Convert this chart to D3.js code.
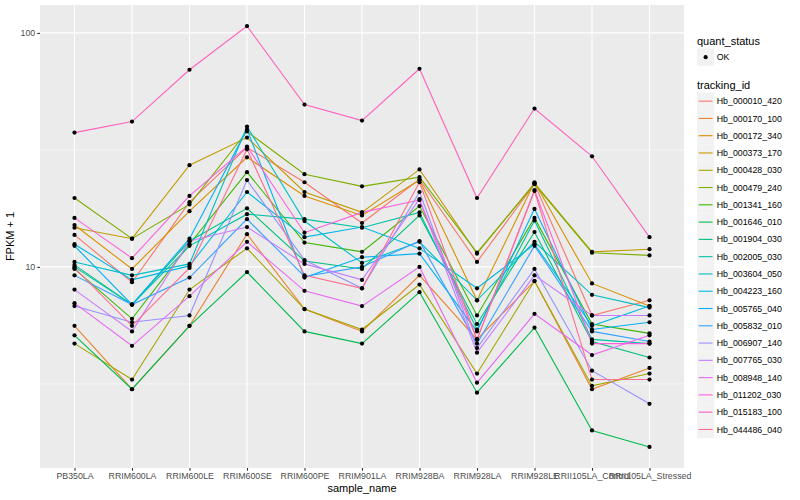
<!DOCTYPE html>
<html lang="en">
<head>
<meta charset="UTF-8">
<title>FPKM + 1 by sample</title>
<script src="https://d3js.org/d3.v7.min.js"></script>
<style>
  body { margin: 0; background: #fff; }
  text { font-family: "Liberation Sans", Arial, Helvetica, sans-serif; }
</style>
</head>
<body>
<svg id="chart" width="800" height="500"></svg>
<script>
// samples on the x axis
var samples = ["PB350LA", "RRIM600LA", "RRIM600LE", "RRIM600SE", "RRIM600PE", "RRIM901LA",
  "RRIM928BA", "RRIM928LA", "RRIM928LE", "RRII105LA_Control", "RRII105LA_Stressed"];

var trackingIds = ["Hb_000010_420", "Hb_000170_100", "Hb_000172_340", "Hb_000373_170",
  "Hb_000428_030", "Hb_000479_240", "Hb_001341_160", "Hb_001646_010", "Hb_001904_030",
  "Hb_002005_030", "Hb_003604_050", "Hb_004223_160", "Hb_005765_040", "Hb_005832_010",
  "Hb_006907_140", "Hb_007765_030", "Hb_008948_140", "Hb_011202_030", "Hb_015183_100",
  "Hb_044486_040"];

var quantStatus = ["OK"];

// FPKM + 1, one row per tracking id, columns in sample order
var fpkmPlusOne = [
  [13.7, 8.6, 18.9, 32.4, 23.0, 15.4, 23.7, 10.5, 22.6, 6.2, 7.2],
  [5.6, 3.0, 5.6, 13.8, 6.6, 5.3, 9.2, 4.9, 8.7, 3.0, 3.7],
  [15.1, 9.8, 17.3, 29.4, 20.1, 16.6, 23.5, 7.2, 23.0, 8.5, 6.8],
  [14.7, 13.2, 27.2, 35.7, 20.9, 17.1, 26.1, 11.4, 22.8, 11.6, 11.9],
  [4.7, 3.3, 8.0, 12.0, 6.6, 5.4, 8.4, 3.5, 8.7, 3.1, 3.5],
  [19.7, 13.2, 18.5, 37.9, 24.9, 22.1, 24.2, 11.5, 22.6, 11.5, 11.2],
  [9.8, 6.0, 12.5, 25.4, 12.7, 11.6, 18.2, 6.2, 16.2, 5.7, 5.2],
  [5.1, 3.0, 5.6, 9.5, 5.3, 4.7, 7.8, 2.9, 5.5, 2.0, 1.7],
  [10.2, 6.9, 12.9, 17.8, 10.6, 9.8, 16.6, 5.7, 14.1, 4.8, 4.1],
  [10.0, 6.9, 12.3, 16.8, 16.0, 14.7, 17.1, 5.4, 15.8, 4.9, 4.7],
  [10.5, 9.2, 10.3, 39.8, 15.7, 10.4, 12.8, 7.2, 12.8, 7.6, 6.7],
  [12.5, 8.8, 10.1, 20.9, 13.4, 14.8, 12.0, 8.1, 12.5, 5.6, 6.8],
  [12.3, 6.9, 13.2, 38.7, 9.0, 11.0, 11.4, 5.3, 17.7, 5.4, 5.8],
  [9.2, 6.9, 9.0, 16.0, 9.1, 10.0, 12.9, 4.7, 12.3, 5.3, 4.8],
  [6.8, 5.8, 6.2, 23.5, 10.7, 8.1, 20.9, 4.5, 9.8, 3.6, 2.6],
  [8.0, 5.3, 12.9, 14.8, 10.3, 8.8, 19.5, 4.3, 9.2, 6.2, 6.2],
  [7.0, 4.6, 7.5, 12.8, 7.9, 6.8, 10.0, 3.2, 6.3, 4.2, 5.1],
  [16.2, 10.9, 20.1, 32.7, 14.0, 17.1, 19.3, 4.9, 21.3, 4.7, 4.7],
  [37.5, 41.8, 69.6, 107.0, 49.4, 42.2, 70.3, 19.7, 47.5, 29.7, 13.4],
  [9.9, 5.6, 9.9, 31.8, 9.2, 8.1, 23.0, 4.9, 21.1, 3.3, 3.3]
];

var yBreaks = [10, 100];

// ggplot hue palette, 20 levels
var palette = ["#F8766D", "#EA8331", "#D89000", "#C09B00", "#A3A500", "#7CAE00", "#39B600",
  "#00BB4E", "#00BF7D", "#00C1A3", "#00BFC4", "#00BAE0", "#00B0F6", "#35A2FF", "#9590FF",
  "#C77CFF", "#E76BF3", "#FA62DB", "#FF62BC", "#FF6C91"];

var svg = d3.select("#chart");
var panel = { left: 40, right: 684, top: 5, bottom: 468 };

var x = d3.scalePoint().domain(samples).range([panel.left, panel.right]).padding(0.6);

// log scale, expanded 5% each side in log space like ggplot
var allVals = d3.merge(fpkmPlusOne);
var lo = Math.log10(d3.min(allVals)), hi = Math.log10(d3.max(allVals));
var pad = (hi - lo) * 0.05;
var y = d3.scaleLog()
  .domain([Math.pow(10, lo - pad), Math.pow(10, hi + pad)])
  .range([panel.bottom, panel.top]);

var color = d3.scaleOrdinal().domain(trackingIds).range(palette);

// panel background
svg.append("rect")
  .attr("x", panel.left).attr("y", panel.top)
  .attr("width", panel.right - panel.left).attr("height", panel.bottom - panel.top)
  .attr("fill", "#EBEBEB");

// minor grid (midpoints between decades)
var minor = [Math.pow(10, 0.5), Math.pow(10, 1.5)];
svg.append("g").selectAll("line").data(minor).enter().append("line")
  .attr("x1", panel.left).attr("x2", panel.right)
  .attr("y1", function(d) { return y(d); }).attr("y2", function(d) { return y(d); })
  .attr("stroke", "#fff").attr("stroke-width", 0.55);

// major grid
svg.append("g").selectAll("line").data(yBreaks).enter().append("line")
  .attr("x1", panel.left).attr("x2", panel.right)
  .attr("y1", function(d) { return y(d); }).attr("y2", function(d) { return y(d); })
  .attr("stroke", "#fff").attr("stroke-width", 1.1);
svg.append("g").selectAll("line").data(samples).enter().append("line")
  .attr("x1", function(d) { return x(d); }).attr("x2", function(d) { return x(d); })
  .attr("y1", panel.top).attr("y2", panel.bottom)
  .attr("stroke", "#fff").attr("stroke-width", 1.1);

// lines
var line = d3.line()
  .x(function(d, i) { return x(samples[i]); })
  .y(function(d) { return y(d); });

svg.append("g").selectAll("path").data(fpkmPlusOne).enter().append("path")
  .attr("d", line)
  .attr("fill", "none")
  .attr("stroke", function(d, i) { return color(trackingIds[i]); })
  .attr("stroke-width", 1.1);

// points
var pts = [];
fpkmPlusOne.forEach(function(row) {
  row.forEach(function(v, j) { pts.push({ s: samples[j], v: v }); });
});
svg.append("g").selectAll("circle").data(pts).enter().append("circle")
  .attr("cx", function(d) { return x(d.s); })
  .attr("cy", function(d) { return y(d.v); })
  .attr("r", 2.1)
  .attr("fill", "#000");

// axes
var yAxis = svg.append("g").attr("transform", "translate(" + panel.left + ",0)")
  .call(d3.axisLeft(y).tickValues(yBreaks).tickSize(2.75).tickPadding(2)
    .tickFormat(d3.format("d")));
var xAxis = svg.append("g").attr("transform", "translate(0," + panel.bottom + ")")
  .call(d3.axisBottom(x).tickSize(2.75).tickPadding(2));
[xAxis, yAxis].forEach(function(a) {
  a.select(".domain").remove();
  a.selectAll(".tick line").attr("stroke", "#333").attr("stroke-width", 1.1);
  a.selectAll(".tick text").attr("fill", "#4D4D4D").style("font-size", "8.8px");
});

// axis titles
svg.append("text").attr("x", (panel.left + panel.right) / 2).attr("y", 492)
  .attr("text-anchor", "middle").style("font-size", "11px").text("sample_name");
svg.append("text")
  .attr("transform", "translate(14," + ((panel.top + panel.bottom) / 2) + ") rotate(-90)")
  .attr("text-anchor", "middle").style("font-size", "11px").text("FPKM + 1");

// legends
var lg = svg.append("g");
var keyX = 697, keySize = 17.28;
lg.append("text").attr("x", keyX).attr("y", 44.5).style("font-size", "11px").text("quant_status");
lg.selectAll(".qk").data(quantStatus).enter().append("rect")
  .attr("x", keyX).attr("y", 48.5).attr("width", keySize).attr("height", keySize)
  .attr("fill", "#F2F2F2");
lg.selectAll(".qp").data(quantStatus).enter().append("circle")
  .attr("cx", keyX + keySize / 2).attr("cy", 48.5 + keySize / 2).attr("r", 2.1).attr("fill", "#000");
lg.selectAll(".qt").data(quantStatus).enter().append("text")
  .attr("x", keyX + keySize + 2.5).attr("y", 48.5 + keySize / 2 + 3.1)
  .style("font-size", "8.8px").text(function(d) { return d; });

lg.append("text").attr("x", keyX).attr("y", 89).style("font-size", "11px").text("tracking_id");
var keyTop = 92.5;
var keys = lg.selectAll(".tk").data(trackingIds).enter().append("g")
  .attr("transform", function(d, i) { return "translate(" + keyX + "," + (keyTop + i * keySize) + ")"; });
keys.append("rect").attr("width", keySize).attr("height", keySize).attr("fill", "#F2F2F2");
keys.append("line").attr("x1", 1.7).attr("x2", keySize - 1.7)
  .attr("y1", keySize / 2).attr("y2", keySize / 2)
  .attr("stroke", function(d) { return color(d); }).attr("stroke-width", 1.1);
keys.append("text").attr("x", keySize + 2.5).attr("y", keySize / 2 + 3.1)
  .style("font-size", "8.8px").text(function(d) { return d; });
</script>
</body>
</html>
